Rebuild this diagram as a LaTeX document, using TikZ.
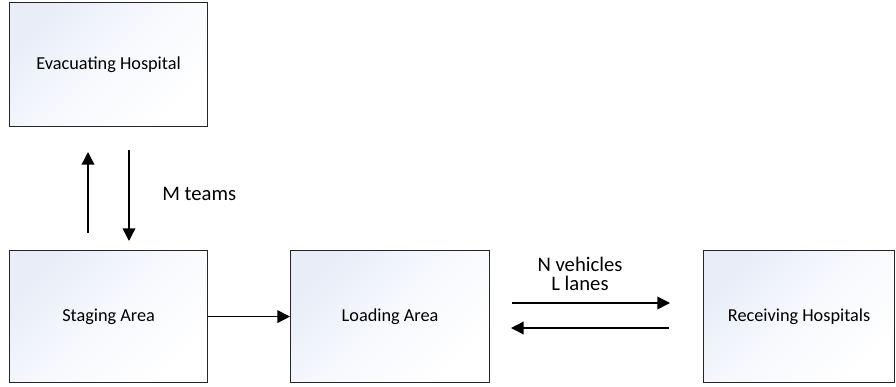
\documentclass[tikz,border=0pt]{standalone}
\usepackage{fontspec}
\setmainfont{Carlito}
\usetikzlibrary{arrows.meta}
\begin{document}
\begin{tikzpicture}[x=0.75pt,y=-0.75pt,
  stagebox/.style={draw=black!85, line width=0.9pt, minimum width=198*0.75pt,
    minimum height=132*0.75pt, anchor=north west, inner sep=0pt,
    top color={rgb,255:red,232;green,237;blue,248}, bottom color=white,
    middle color={rgb,255:red,247;green,249;blue,253},
    shading angle=45, font=\fontsize{13.7}{15}\selectfont},
  flow/.style={-{Triangle[length=9.5pt,width=9.5pt]}, line width=1.1pt},
  lbl/.style={font=\fontsize{15.5}{17}\selectfont, align=center, inner sep=0pt}]
\useasboundingbox (0,0) rectangle (896,386);
\node[stagebox, minimum height=124*0.75pt] (evac) at (9,2) {Evacuating Hospital};
\node[stagebox] (stage) at (9,250) {Staging Area};
\node[stagebox, minimum width=199*0.75pt] (load) at (290,250) {Loading Area};
\node[stagebox, minimum width=191*0.75pt] (recv) at (703,250) {Receiving Hospitals};
% vertical exchange between the hospital and the staging area
\coordinate (upS) at (88,233);
\coordinate (upE) at (88,152);
\coordinate (dnS) at (129,150);
\coordinate (dnE) at (129,241);
\draw[flow] (upS) -- (upE);
\draw[flow] (dnS) -- (dnE);
\node[lbl, anchor=west] (mteams) at (162,194) {M teams};
% staging to loading
\draw[flow] (stage.east) -- (load.west);
% vehicle shuttle between loading area and receiving hospitals
\coordinate (goS) at (512,303);
\coordinate (goE) at (670,303);
\coordinate (backS) at (669,328);
\coordinate (backE) at (511,328);
\draw[flow] (goS) -- (goE);
\draw[flow] (backS) -- (backE);
\node[lbl] (veh) at (580,274) {N vehicles\\[-3pt]L lanes};
\end{tikzpicture}
\end{document}
